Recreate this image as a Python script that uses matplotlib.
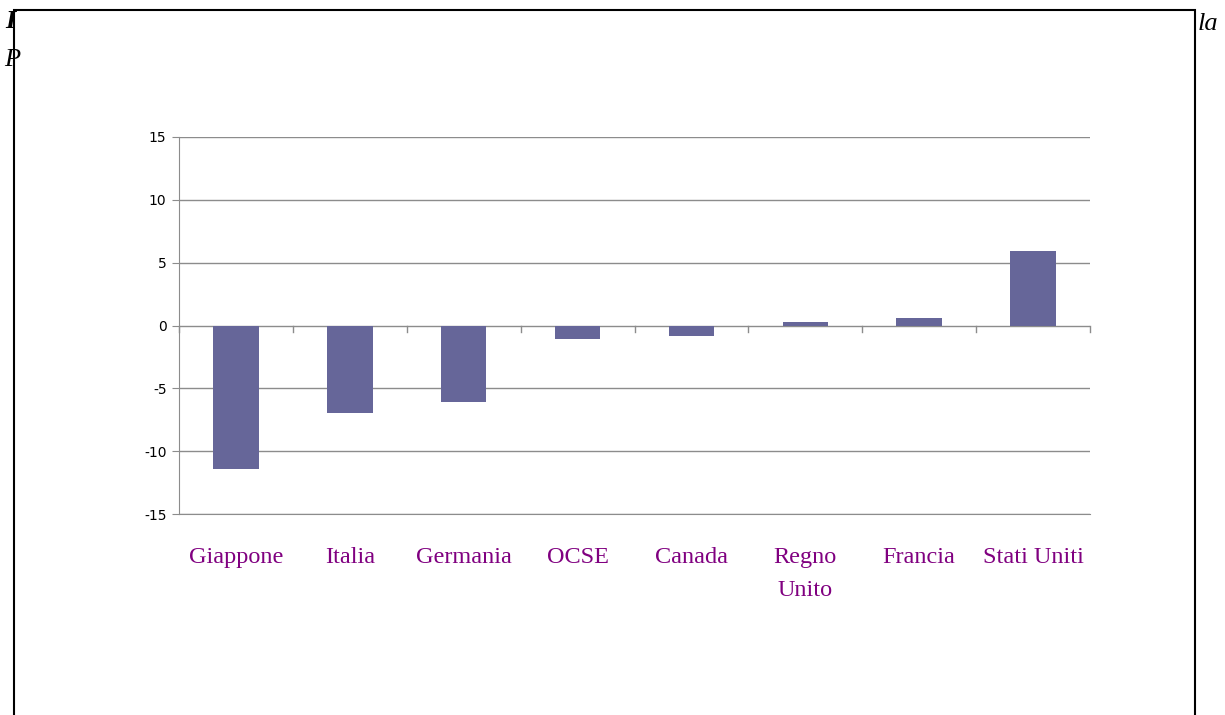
import matplotlib.pyplot as plt
from matplotlib.patches import Rectangle

countries = ['Giappone', 'Italia', 'Germania', 'OCSE', 'Canada', 'Regno\nUnito', 'Francia', 'Stati Uniti']
values = [-11.4, -7.0, -6.1, -1.1, -0.8, 0.3, 0.6, 5.9]
yticks = [-15, -10, -5, 0, 5, 10, 15]

W, H = 1225, 715
fig = plt.figure(figsize=(W / 100, H / 100), dpi=100)

# page fragments cut by the chart frame
fig.text(5 / W, 1 - 22 / H, 'I', family='Liberation Serif', style='italic', weight='bold',
         fontsize=19, va='center', ha='left')
fig.text(4 / W, 1 - 60 / H, 'P', family='Liberation Serif', style='italic',
         fontsize=19, va='center', ha='left')
fig.text(1198 / W, 1 - 24 / H, 'la', family='Liberation Serif', style='italic',
         fontsize=19, va='center', ha='left')

# chart frame
fig.add_artist(Rectangle((14 / W, -0.05), (1195 - 14) / W, 1.05 - 10 / H,
                         transform=fig.transFigure, fill=True, facecolor='white',
                         edgecolor='black', linewidth=1.5, zorder=1))

ax = fig.add_axes([179 / W, 1 - 514 / H, (1090 - 179) / W, (514 - 137) / H])
ax.set_zorder(2)
ax.patch.set_alpha(0)

x = range(len(countries))
ax.bar(x, values, width=0.4, color='#666699', zorder=3)

ax.set_ylim(-15, 15)
ax.set_xlim(-0.5, len(countries) - 0.5)
ax.set_yticks(yticks)
ax.set_yticklabels([str(v) for v in yticks], family='DejaVu Sans', fontsize=10)
ax.yaxis.grid(True, color='#8c8c8c', linewidth=1, zorder=0)
ax.tick_params(axis='y', length=5, color='#8c8c8c', pad=4)

# category labels and boundary ticks on the zero line
ax.set_xticks([])
for i, name in enumerate(countries):
    ax.text(i, -17.6, name, ha='center', va='top', color='#800080',
            family='Liberation Serif', fontsize=17.5, linespacing=1.75)
for b in range(len(countries) + 1):
    ax.plot([b - 0.5, b - 0.5], [0, -0.5], color='#8c8c8c', linewidth=1, zorder=2,
            clip_on=False)

for side in ['top', 'right']:
    ax.spines[side].set_visible(False)
ax.spines['left'].set_color('#8c8c8c')
ax.spines['bottom'].set_color('#8c8c8c')

fig.savefig('out.png', dpi=100)
